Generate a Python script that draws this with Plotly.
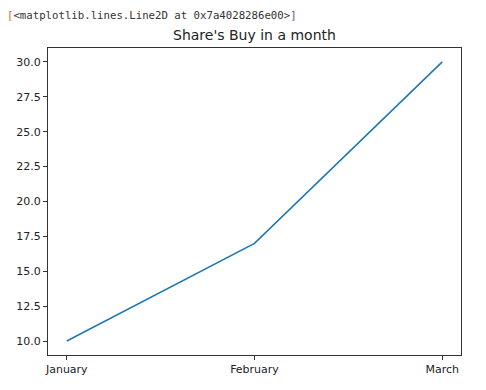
import plotly.graph_objects as go

months = ["January", "February", "March"]
shares = [10, 17, 30]
ytick_vals = [10.0, 12.5, 15.0, 17.5, 20.0, 22.5, 25.0, 27.5, 30.0]
ytick_text = ["10.0", "12.5", "15.0", "17.5", "20.0", "22.5", "25.0", "27.5", "30.0"]
title_text = "Share's Buy in a month"
repr_text = "&lt;matplotlib.lines.Line2D at 0x7a4028286e00&gt;"

# page body has an 8px margin; compensate so the chart lands where the reference has it
OFF = 8
W, H = 486, 390
L, R, T, B = 48 - OFF, 24.5 + OFF, 47.5 - OFF, 35 + OFF

fig = go.Figure()
fig.add_trace(go.Scatter(x=list(range(len(months))), y=shares, mode="lines",
                         line=dict(color="#1f77b4", width=1.6), showlegend=False,
                         hoverinfo="skip"))

axis_common = dict(showline=True, linecolor="#333333", linewidth=1, mirror=True,
                   ticks="outside", ticklen=4, tickcolor="#333333", tickwidth=1,
                   showgrid=False, zeroline=False, automargin=False,
                   tickfont=dict(family="DejaVu Sans", size=11, color="#222222"))

plot_w = W - L - R
plot_h = H - T - B
def px_to_paper_x(px):
    return (px - OFF - L) / plot_w
def px_to_paper_y(py):
    return (H - B - (py - OFF)) / plot_h

fig.update_layout(
    width=W, height=H,
    margin=dict(l=L, r=R, t=T, b=B, pad=0),
    paper_bgcolor="white", plot_bgcolor="white",
    xaxis=dict(range=[-0.1, 2.1], tickvals=list(range(len(months))), ticktext=months,
               **axis_common),
    yaxis=dict(range=[9, 31], tickvals=ytick_vals, ticktext=ytick_text, **axis_common),
    annotations=[
        dict(text=title_text, x=px_to_paper_x(254.5), y=px_to_paper_y(34.5),
             xref="paper", yref="paper",
             showarrow=False, font=dict(family="DejaVu Sans", size=14, color="#222222"),
             xanchor="center", yanchor="middle"),
        dict(text="<span style='color:#d2691e'>[</span>" + repr_text +
                  "<span style='color:#8b3a9c'>]</span>",
             x=px_to_paper_x(6), y=px_to_paper_y(15), xref="paper", yref="paper",
             showarrow=False,
             font=dict(family="DejaVu Sans Mono", size=10.7, color="#333333"),
             xanchor="left", yanchor="middle", borderpad=0),
    ],
)

fig.write_html("out.html")
